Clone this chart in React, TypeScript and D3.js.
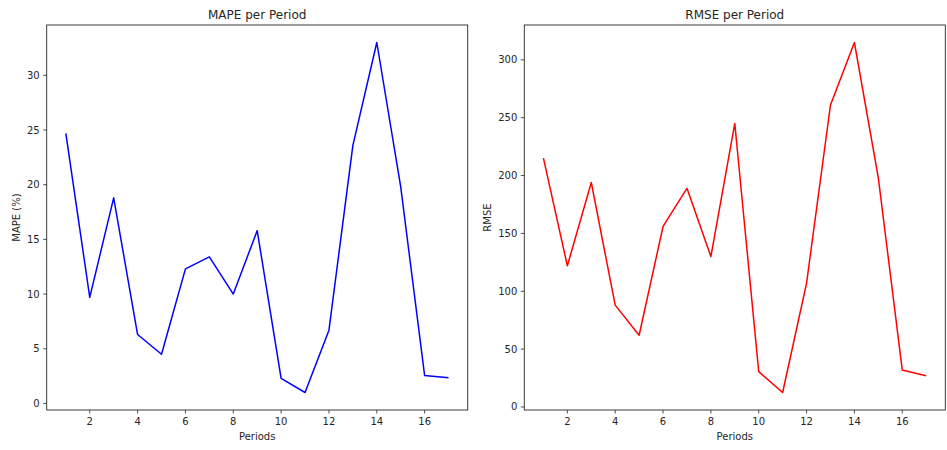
import React from "react";
import * as d3 from "d3";

const periods = [1, 2, 3, 4, 5, 6, 7, 8, 9, 10, 11, 12, 13, 14, 15, 16, 17];
const mapeValues = [24.7, 9.7, 18.8, 6.3, 4.5, 12.3, 13.4, 10.0, 15.8, 2.3, 1.0, 6.7, 23.6, 33.0, 19.8, 2.55, 2.35];
const rmseValues = [215, 122, 194, 88, 62, 156, 189, 130, 245, 30.5, 12.5, 107, 261, 315, 198, 32, 27];
const xTicks = [2, 4, 6, 8, 10, 12, 14, 16];
const mapeTicks = [0, 5, 10, 15, 20, 25, 30];
const rmseTicks = [0, 50, 100, 150, 200, 250, 300];

const W = 947;
const H = 450;
const FONT = "DejaVu Sans, sans-serif";
const TXT = "#262626";

type PanelProps = {
  left: number;
  right: number;
  title: string;
  ylabel: string;
  ylabelX: number;
  values: number[];
  yTicks: number[];
  color: string;
};

function Panel({ left, right, title, ylabel, ylabelX, values, yTicks, color }: PanelProps) {
  const top = 25;
  const bottom = 410;
  const xMin = d3.min(periods)!;
  const xMax = d3.max(periods)!;
  const xPad = (xMax - xMin) * 0.05;
  const yMin = d3.min(values)!;
  const yMax = d3.max(values)!;
  const yPad = (yMax - yMin) * 0.05;
  const x = d3.scaleLinear().domain([xMin - xPad, xMax + xPad]).range([left, right]);
  const y = d3.scaleLinear().domain([yMin - yPad, yMax + yPad]).range([bottom, top]);
  const line = d3
    .line<number>()
    .x((_, i) => x(periods[i]))
    .y((d) => y(d));
  return (
    <g>
      <rect x={left} y={top} width={right - left} height={bottom - top} fill="white" />
      <path d={line(values) || ""} fill="none" stroke={color} strokeWidth={1.5} strokeLinejoin="round" />
      <rect x={left} y={top} width={right - left} height={bottom - top} fill="none" stroke={TXT} strokeWidth={0.9} />
      {xTicks.map((t) => (
        <g key={"x" + t}>
          <line x1={x(t)} x2={x(t)} y1={bottom} y2={bottom + 3.5} stroke={TXT} strokeWidth={0.8} />
          <text x={x(t)} y={bottom + 15} textAnchor="middle" fontSize={10} fontFamily={FONT} fill={TXT}>
            {t}
          </text>
        </g>
      ))}
      {yTicks.map((t) => (
        <g key={"y" + t}>
          <line x1={left - 3.5} x2={left} y1={y(t)} y2={y(t)} stroke={TXT} strokeWidth={0.8} />
          <text x={left - 7} y={y(t)} dy="0.35em" textAnchor="end" fontSize={10} fontFamily={FONT} fill={TXT}>
            {t}
          </text>
        </g>
      ))}
      <text x={(left + right) / 2} y={19} textAnchor="middle" fontSize={12} fontFamily={FONT} fill={TXT}>
        {title}
      </text>
      <text x={(left + right) / 2} y={440} textAnchor="middle" fontSize={10} fontFamily={FONT} fill={TXT}>
        Periods
      </text>
      <text
        transform={`translate(${ylabelX},${(top + bottom) / 2}) rotate(-90)`}
        textAnchor="middle"
        fontSize={10}
        fontFamily={FONT}
        fill={TXT}
      >
        {ylabel}
      </text>
    </g>
  );
}

export default function App() {
  return (
    <svg
      width={W}
      height={H}
      style={{ position: "absolute", left: 0, top: 0, background: "white" }}
    >
      <rect x={0} y={0} width={W} height={H} fill="white" />
      <Panel
        left={46.7}
        right={467.7}
        title="MAPE per Period"
        ylabel="MAPE (%)"
        ylabelX={19.5}
        values={mapeValues}
        yTicks={mapeTicks}
        color="#0000ff"
      />
      <Panel
        left={524.3}
        right={945.3}
        title="RMSE per Period"
        ylabel="RMSE"
        ylabelX={490.5}
        values={rmseValues}
        yTicks={rmseTicks}
        color="#ff0000"
      />
    </svg>
  );
}
